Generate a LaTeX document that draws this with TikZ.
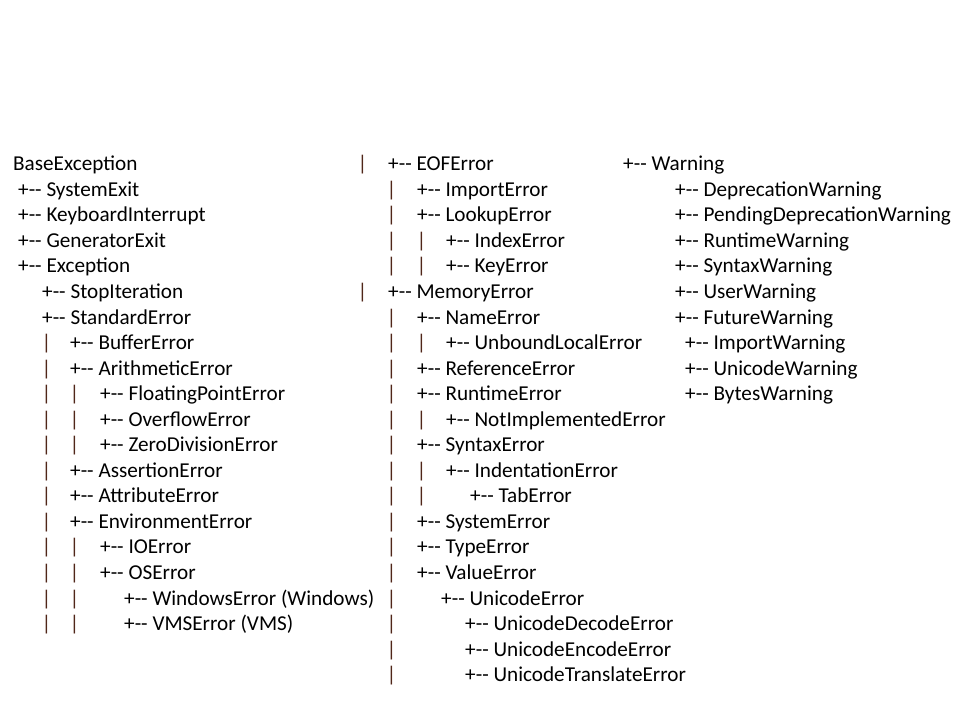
\documentclass[tikz,border=0pt]{standalone}
\usepackage{fontspec}
\setmainfont{Carlito}[Ligatures=TeXOff]
\definecolor{barcol}{RGB}{80,38,25}
\newcommand{\rowy}[1]{170.7+25.55*#1}
\tikzset{
  t/.style={anchor=base west, inner sep=0pt, font=\fontsize{21.2}{25}\selectfont, text=black},
  bar/.style={t, text=barcol}
}
\begin{document}
\begin{tikzpicture}[x=1pt,y=-1pt]
\useasboundingbox (0,0) rectangle (960,720);
% column 1
\node[t] (c1r0) at (13,{\rowy{0}}) {BaseException};
\node[t] (c1r1) at (18,{\rowy{1}}) {+-- SystemExit};
\node[t] (c1r2) at (18,{\rowy{2}}) {+-- KeyboardInterrupt};
\node[t] (c1r3) at (18,{\rowy{3}}) {+-- GeneratorExit};
\node[t] (c1r4) at (18,{\rowy{4}}) {+-- Exception};
\node[t] (c1r5) at (42,{\rowy{5}}) {+-- StopIteration};
\node[t] (c1r6) at (42,{\rowy{6}}) {+-- StandardError};
\foreach \r in {7,...,18} {\node[bar] (c1a\r) at (41.5,{\rowy{\r}}) {|};}
\foreach \r in {9,10,11,15,16,17,18} {\node[bar] (c1b\r) at (69.5,{\rowy{\r}}) {|};}
\node[t] (c1r7) at (70,{\rowy{7}}) {+-- BufferError};
\node[t] (c1r8) at (70,{\rowy{8}}) {+-- ArithmeticError};
\node[t] (c1r9) at (100,{\rowy{9}}) {+-- FloatingPointError};
\node[t] (c1r10) at (100,{\rowy{10}}) {+-- OverflowError};
\node[t] (c1r11) at (100,{\rowy{11}}) {+-- ZeroDivisionError};
\node[t] (c1r12) at (70,{\rowy{12}}) {+-- AssertionError};
\node[t] (c1r13) at (70,{\rowy{13}}) {+-- AttributeError};
\node[t] (c1r14) at (70,{\rowy{14}}) {+-- EnvironmentError};
\node[t] (c1r15) at (100,{\rowy{15}}) {+-- IOError};
\node[t] (c1r16) at (100,{\rowy{16}}) {+-- OSError};
\node[t] (c1r17) at (124,{\rowy{17}}) {+-- WindowsError (Windows)};
\node[t] (c1r18) at (124,{\rowy{18}}) {+-- VMSError (VMS)};
% column 2
\node[bar] (c2a0) at (357.5,{\rowy{0}}) {|};
\node[bar] (c2a5) at (357.5,{\rowy{5}}) {|};
\foreach \r in {1,2,3,4,6,7,8,9,10,11,12,13,14,15,16,17,18,19,20} {\node[bar] (c2b\r) at (386.5,{\rowy{\r}}) {|};}
\foreach \r in {3,4,7,10,12,13} {\node[bar] (c2c\r) at (416.5,{\rowy{\r}}) {|};}
\node[t] (c2r0) at (388,{\rowy{0}}) {+-- EOFError};
\node[t] (c2r1) at (417,{\rowy{1}}) {+-- ImportError};
\node[t] (c2r2) at (417,{\rowy{2}}) {+-- LookupError};
\node[t] (c2r3) at (446,{\rowy{3}}) {+-- IndexError};
\node[t] (c2r4) at (446,{\rowy{4}}) {+-- KeyError};
\node[t] (c2r5) at (388,{\rowy{5}}) {+-- MemoryError};
\node[t] (c2r6) at (417,{\rowy{6}}) {+-- NameError};
\node[t] (c2r7) at (446,{\rowy{7}}) {+-- UnboundLocalError};
\node[t] (c2r8) at (417,{\rowy{8}}) {+-- ReferenceError};
\node[t] (c2r9) at (417,{\rowy{9}}) {+-- RuntimeError};
\node[t] (c2r10) at (446,{\rowy{10}}) {+-- NotImplementedError};
\node[t] (c2r11) at (417,{\rowy{11}}) {+-- SyntaxError};
\node[t] (c2r12) at (446,{\rowy{12}}) {+-- IndentationError};
\node[t] (c2r13) at (470,{\rowy{13}}) {+-- TabError};
\node[t] (c2r14) at (417,{\rowy{14}}) {+-- SystemError};
\node[t] (c2r15) at (417,{\rowy{15}}) {+-- TypeError};
\node[t] (c2r16) at (417,{\rowy{16}}) {+-- ValueError};
\node[t] (c2r17) at (441,{\rowy{17}}) {+-- UnicodeError};
\node[t] (c2r18) at (465,{\rowy{18}}) {+-- UnicodeDecodeError};
\node[t] (c2r19) at (465,{\rowy{19}}) {+-- UnicodeEncodeError};
\node[t] (c2r20) at (465,{\rowy{20}}) {+-- UnicodeTranslateError};
% column 3
\node[t] (c3r0) at (623,{\rowy{0}}) {+-- Warning};
\node[t] (c3r1) at (675,{\rowy{1}}) {+-- DeprecationWarning};
\node[t] (c3r2) at (675,{\rowy{2}}) {+-- PendingDeprecationWarning};
\node[t] (c3r3) at (675,{\rowy{3}}) {+-- RuntimeWarning};
\node[t] (c3r4) at (675,{\rowy{4}}) {+-- SyntaxWarning};
\node[t] (c3r5) at (675,{\rowy{5}}) {+-- UserWarning};
\node[t] (c3r6) at (675,{\rowy{6}}) {+-- FutureWarning};
\node[t] (c3r7) at (685,{\rowy{7}}) {+-- ImportWarning};
\node[t] (c3r8) at (685,{\rowy{8}}) {+-- UnicodeWarning};
\node[t] (c3r9) at (685,{\rowy{9}}) {+-- BytesWarning};
\end{tikzpicture}
\end{document}
